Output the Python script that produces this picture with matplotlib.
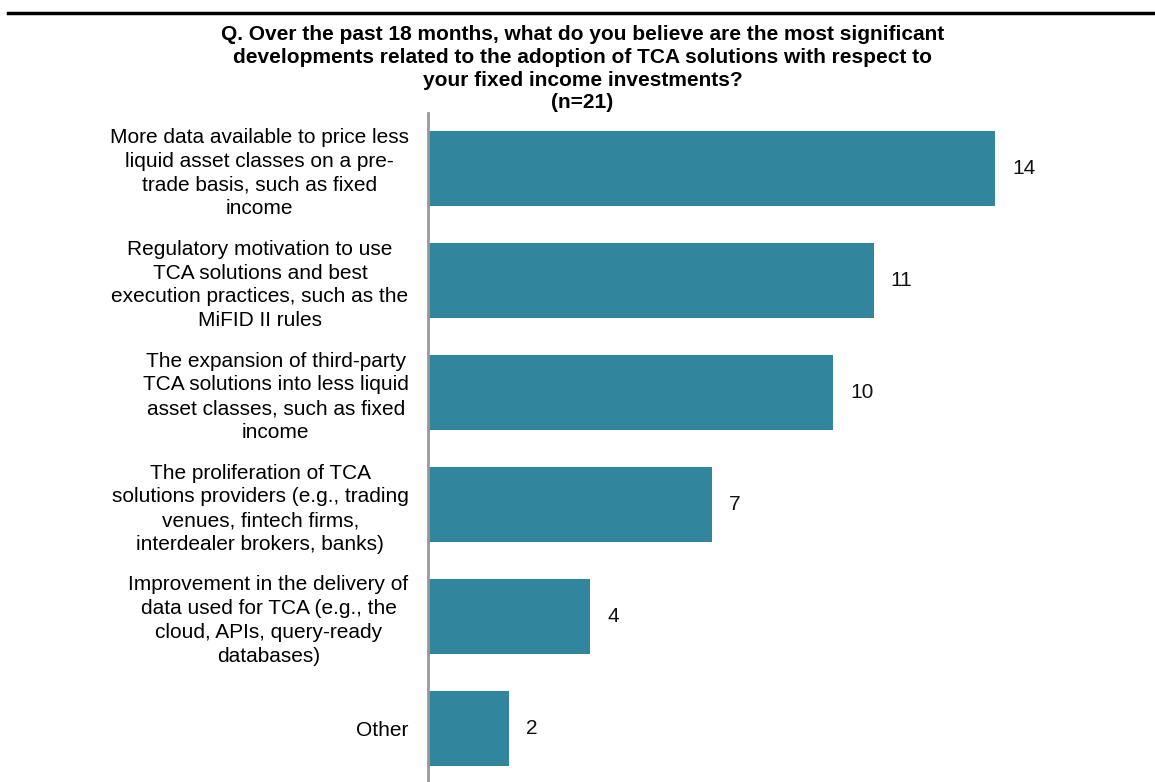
import matplotlib.pyplot as plt
import numpy as np

plt.rcParams['font.family'] = ['Liberation Sans', 'DejaVu Sans']

labels = [
    "More data available to price less\nliquid asset classes on a pre-\ntrade basis, such as fixed\nincome",
    "Regulatory motivation to use\nTCA solutions and best\nexecution practices, such as the\nMiFID II rules",
    "The expansion of third-party\nTCA solutions into less liquid\nasset classes, such as fixed\nincome",
    "The proliferation of TCA\nsolutions providers (e.g., trading\nvenues, fintech firms,\ninterdealer brokers, banks)",
    "Improvement in the delivery of\ndata used for TCA (e.g., the\ncloud, APIs, query-ready\ndatabases)",
    "Other",
]
counts = [14, 11, 10, 7, 4, 2]

title = ("Q. Over the past 18 months, what do you believe are the most significant\n"
         "developments related to the adoption of TCA solutions with respect to\n"
         "your fixed income investments?\n(n=21)")

bar_color = '#31859C'

fig = plt.figure(figsize=(11.55, 7.82), dpi=100)
ax = fig.add_axes([0.3706, -0.003, 0.6294, 0.859])

y = np.arange(len(counts))
ax.barh(y, counts, height=0.67, color=bar_color)
ax.set_ylim(len(counts) - 0.5, -0.5)
ax.set_xlim(0, 17.95)

for yi, v in zip(y, counts):
    ax.text(v + 0.42, yi, str(v), va='center', ha='left', fontsize=15, color='#111111')

ax.set_yticks(y)
ax.set_yticklabels(labels, fontsize=15, multialignment='center', linespacing=1.33)
ax.tick_params(axis='y', length=0, pad=14)
ax.set_xticks([])

for s in ['top', 'right', 'bottom']:
    ax.spines[s].set_visible(False)
ax.spines['left'].set_color('#999999')
ax.spines['left'].set_linewidth(2)

fig.text(0.5043, 0.968, title, ha='center', va='top', fontsize=15, fontweight='bold',
         linespacing=1.25)

# heavy rule across the top
fig.add_artist(plt.Line2D([0.007, 1.0], [0.984, 0.984], color='black', linewidth=2.5,
                          transform=fig.transFigure))

fig.savefig('out.png', dpi=100)
